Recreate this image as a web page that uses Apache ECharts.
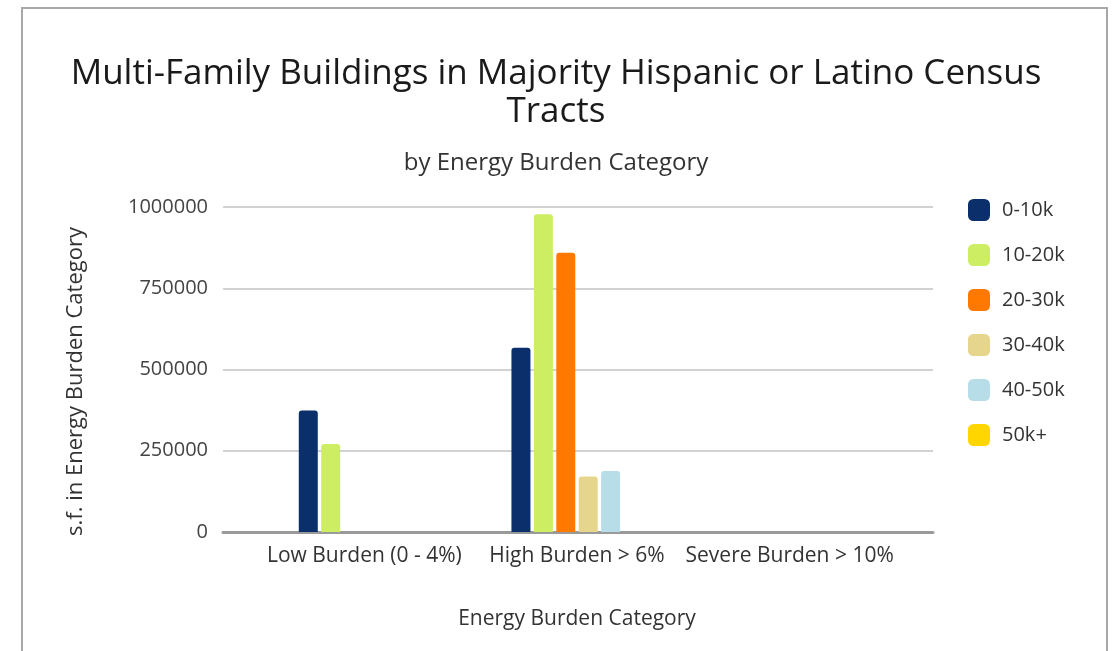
<!DOCTYPE html>
<html>
<head>
<meta charset="utf-8">
<script src="https://cdn.jsdelivr.net/npm/echarts@6/dist/echarts.min.js"></script>
<style>
  html, body { margin: 0; padding: 0; background: #fff; }
  #chart { width: 1112px; height: 651px; }
</style>
</head>
<body>
<div id="chart"></div>
<script>
// Categories along the x axis
const categories = ['Low Burden (0 - 4%)', 'High Burden > 6%', 'Severe Burden > 10%'];

// Square footage per building-size band, one value per category
const seriesNames = ['0-10k', '10-20k', '20-30k', '30-40k', '40-50k', '50k+'];
const band0to10k  = [374000, 567000, 0];
const band10to20k = [271000, 978000, 0];
const band20to30k = [0, 859000, 0];
const band30to40k = [0, 171000, 0];
const band40to50k = [0, 188000, 0];
const band50kPlus = [0, 0, 0];

const seriesValues = [band0to10k, band10to20k, band20to30k, band30to40k, band40to50k, band50kPlus];
const seriesColors = ['#0b2f6b', '#cdee63', '#ff7900', '#e6d58c', '#b7dde8', '#ffd600'];

// Value axis ticks
const yTicks = [0, 250000, 500000, 750000, 1000000];

const FONT = '"Open Sans", sans-serif';

const chart = echarts.init(document.getElementById('chart'));

const option = {
  backgroundColor: '#ffffff',
  animation: false,
  title: [
    {
      text: 'Multi-Family Buildings in Majority Hispanic or Latino Census\nTracts',
      left: 'center',
      top: 50,
      textStyle: { fontFamily: FONT, fontSize: 35, fontWeight: 'normal', color: '#1a1a1a', lineHeight: 38 }
    },
    {
      text: 'by Energy Burden Category',
      left: 'center',
      top: 146,
      textStyle: { fontFamily: FONT, fontSize: 24, fontWeight: 'normal', color: '#333' }
    }
  ],
  legend: {
    orient: 'vertical',
    left: 963,
    top: 194,
    itemWidth: 22,
    itemHeight: 22,
    itemGap: 23,
    icon: 'roundRect',
    textStyle: { fontFamily: FONT, fontSize: 20, color: '#333', padding: [0, 0, 0, 7] },
    data: seriesNames
  },
  grid: [
    // background grid carrying the value scale and the gridlines
    { left: 223, right: 179, top: 207, bottom: 119, containLabel: false },
    // grid holding the bars and the category labels
    { left: 258, right: 216, top: 207, bottom: 119, containLabel: false }
  ],
  xAxis: [
    {
      gridIndex: 0,
      type: 'value',
      min: 0,
      max: 1,
      axisLine: { show: true, onZero: false, lineStyle: { color: '#9a9a9a', width: 3 } },
      axisTick: { show: false },
      axisLabel: { show: false },
      splitLine: { show: false }
    },
    {
      gridIndex: 1,
      type: 'category',
      data: categories,
      axisLine: { show: false },
      axisTick: { show: false },
      axisLabel: { fontFamily: FONT, fontSize: 21, color: '#333', margin: 14, interval: 0 },
      name: 'Energy Burden Category',
      nameLocation: 'middle',
      nameGap: 77,
      nameTextStyle: { fontFamily: FONT, fontSize: 21, color: '#333' }
    }
  ],
  yAxis: [
    {
      gridIndex: 0,
      type: 'value',
      min: yTicks[0],
      max: yTicks[yTicks.length - 1],
      interval: yTicks[1] - yTicks[0],
      axisLine: { show: false },
      axisTick: { show: false },
      axisLabel: {
        fontFamily: FONT, fontSize: 20, color: '#444', margin: 15,
        formatter: (v) => String(v)
      },
      splitLine: { lineStyle: { color: '#d2d2d2', width: 2 } },
      name: 's.f. in Energy Burden Category',
      nameLocation: 'middle',
      nameRotate: 90,
      nameGap: 136,
      nameTextStyle: { fontFamily: FONT, fontSize: 22, color: '#333', padding: [0, 24, 0, 0] }
    },
    {
      gridIndex: 1,
      type: 'value',
      min: yTicks[0],
      max: yTicks[yTicks.length - 1],
      show: false
    }
  ],
  graphic: [
    {
      type: 'rect',
      shape: { x: 22, y: 8, width: 1085, height: 700 },
      style: { fill: 'none', stroke: '#a8a8a8', lineWidth: 2 },
      silent: true,
      z: 100
    }
  ],
  series: seriesNames.map((name, i) => ({
    name: name,
    type: 'bar',
    xAxisIndex: 1,
    yAxisIndex: 1,
    data: seriesValues[i],
    barWidth: 19,
    barGap: '18%',
    itemStyle: { color: seriesColors[i], borderRadius: [3, 3, 0, 0] },
    z: 5
  }))
};

chart.setOption(option);
</script>
</body>
</html>
